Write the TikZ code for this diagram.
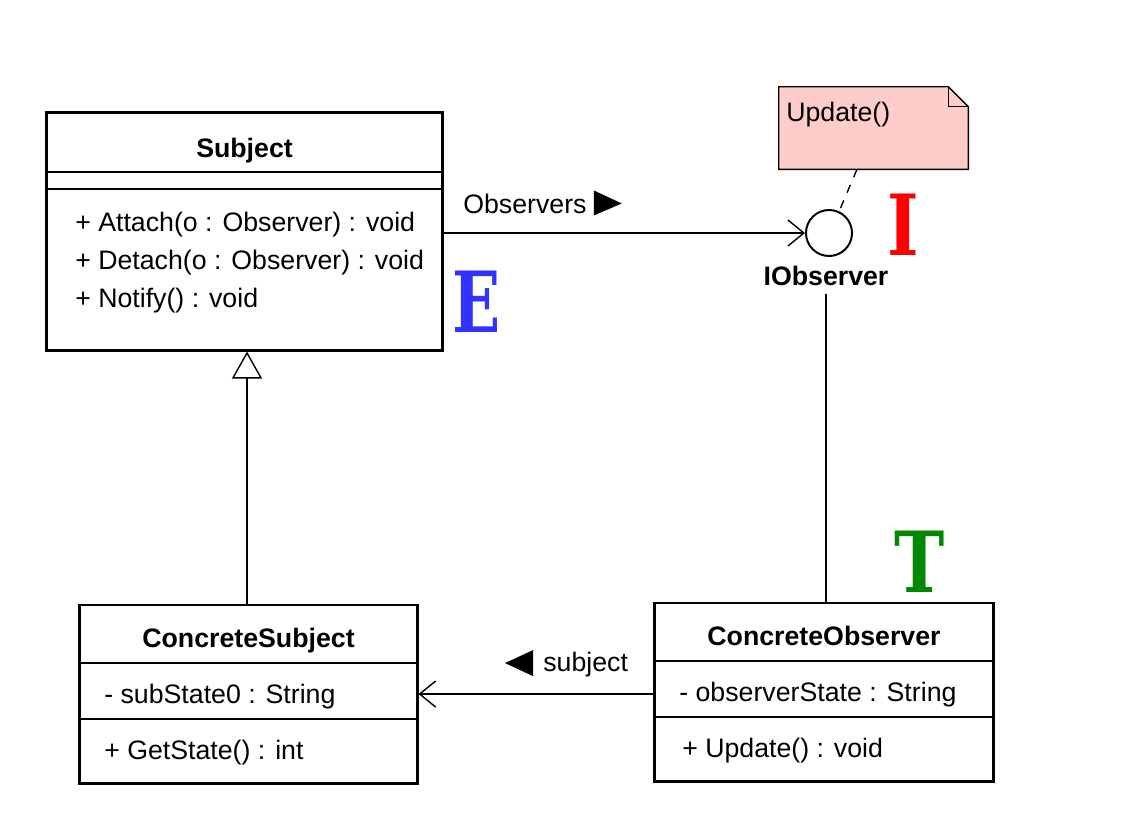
\documentclass[tikz,border=0pt]{standalone}
\usepackage{graphicx}
\usepackage{fontspec}
\setmainfont{Liberation Sans}
\newfontfamily\letterfont{DejaVu Serif}
\usetikzlibrary{arrows.meta,positioning}

\definecolor{notepink}{RGB}{255,204,204}
\definecolor{letterblue}{RGB}{51,51,255}
\definecolor{lettergreen}{RGB}{0,136,0}

\tikzset{
  classbox/.style={draw,line width=2.1pt,inner sep=0pt},
  member/.style={anchor=base west,inner sep=0pt,font=\fontsize{19}{21}\selectfont},
  classname/.style={anchor=base,inner sep=0pt,font=\bfseries\fontsize{19}{21}\selectfont},
  bigletter/.style={inner sep=0pt,font=\letterfont\bfseries\fontsize{60}{60}\selectfont},
  navarrow/.style={line width=1pt,-{Straight Barb[length=0.4cm,width=0.65cm,line width=1pt]}},
}

\begin{document}
\begin{tikzpicture}[x=0.025cm,y=-0.025cm]
\useasboundingbox (0,0) rectangle (1124,830);

% class boxes
\node[classbox,minimum width=9.875cm,minimum height=5.925cm] (subject) at (244.5,231.5) {};
\node[classbox,minimum width=8.425cm,minimum height=4.45cm] (csubject) at (248.5,694) {};
\node[classbox,minimum width=8.45cm,minimum height=4.45cm] (cobserver) at (824,692) {};

% compartments
\foreach \y in {172,189} {
	\draw[line width=1pt] (subject.west |- 0,\y) -- (subject.east |- 0,\y);
}
\foreach \y in {663,719} {
	\draw[line width=1pt] (csubject.west |- 0,\y) -- (csubject.east |- 0,\y);
}
\foreach \y in {661,717} {
	\draw[line width=1pt] (cobserver.west |- 0,\y) -- (cobserver.east |- 0,\y);
}

% names and members
\node[classname] (subjectname) at (244.5,157) {Subject};
\node[member] (attach) at (75,231) {+ Attach(o : Observer) : void};
\node[member] (detach) at (75,269) {+ Detach(o : Observer) : void};
\node[member] (notify) at (75,307) {+ Notify() : void};

\node[classname] (csubjectname) at (248.5,647) {ConcreteSubject};
\node[member] (substate) at (104,703) {- subState0 : String};
\node[member] (getstate) at (104,759) {+ GetState() : int};

\node[classname] (cobservername) at (824,645) {ConcreteObserver};
\node[member] (obsstate) at (679,701) {- observerState : String};
\node[member] (update) at (682,757) {+ Update() : void};

% interface (lollipop) and note
\node[circle,draw,line width=1.4pt,minimum size=1.15cm,inner sep=0pt] (iface) at (829,233) {};
\node[classname] (ifacename) at (826,285) {IObserver};

\node[minimum width=4.725cm,minimum height=2.05cm,inner sep=0pt] (note) at (873.5,128) {};
\draw[line width=1pt,fill=notepink] (note.south west) -- (note.north west) -- ([xshift=-0.5cm]note.north east)
	-- ([yshift=-0.5cm]note.north east) -- (note.south east) -- cycle;
\draw[line width=1pt] ([xshift=-0.5cm]note.north east) |- ([yshift=-0.5cm]note.north east);
\node[member] (notetext) at (786,121) {Update()};
\draw[line width=1pt,dash pattern=on 6pt off 6pt] (note.south -| 857,0) -- (iface.65);

% connectors
\draw[navarrow] (subject.east |- iface) -- (iface);
\draw[line width=1pt] ([yshift=-0.2cm]ifacename.south) -- (ifacename.south |- cobserver.north);
\draw[line width=1pt,-{Triangle[open,length=0.675cm,width=0.75cm,line width=1pt]}]
	(csubject.north -| 247,0) -- (subject.south -| 247,0);
\draw[navarrow] (cobserver.west |- csubject.east) -- (csubject.east);

% association labels
\node[member] (observerslabel) at (463,213) {Observers};
\fill (observerslabel.east) ++(7,-13) -- ++(28,13) -- ++(-28,12) -- cycle;
\node[member] (subjectlabel) at (543,671) {subject};
\fill (subjectlabel.west) ++(-10,-14) -- ++(-28,13) -- ++(28,13) -- cycle;

% letters
\node[bigletter,text=letterblue] (letterE) at (477,302) {\scalebox{0.75}[1]{E}};
\node[bigletter,text=red] (letterI) at (903,225) {\scalebox{0.8}[1]{I}};
\node[bigletter,text=lettergreen] (letterT) at (920,562) {\scalebox{0.8}[1]{T}};
\end{tikzpicture}
\end{document}
